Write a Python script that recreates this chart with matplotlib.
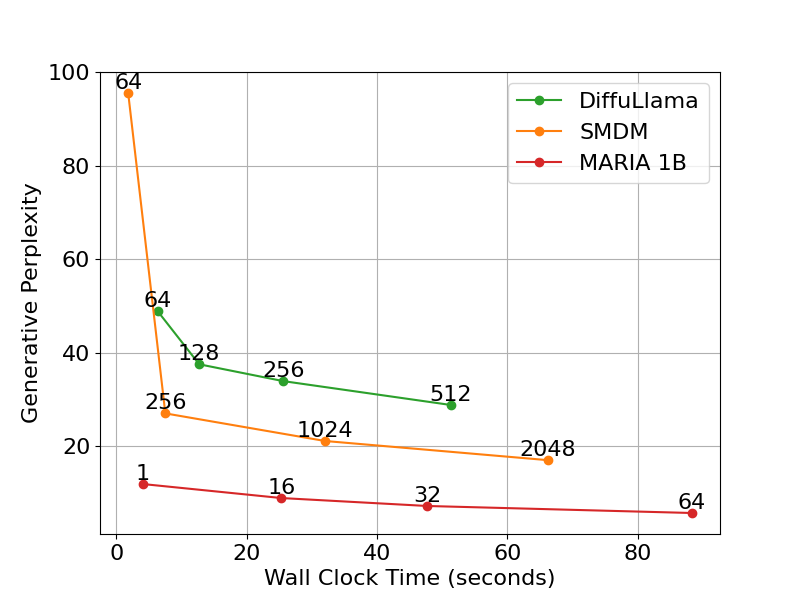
import matplotlib
matplotlib.use("Agg")
import matplotlib.pyplot as plt

# values
diffullama_time = [6.3, 12.7, 25.6, 51.3]
diffullama_ppl = [48.9, 37.5, 33.9, 28.8]
diffullama_steps = ["64", "128", "256", "512"]

smdm_time = [1.8, 7.5, 32.0, 66.2]
smdm_ppl = [95.5, 27.0, 21.1, 17.0]
smdm_steps = ["64", "256", "1024", "2048"]

maria_time = [4.0, 25.3, 47.7, 88.3]
maria_ppl = [11.9, 8.9, 7.2, 5.7]
maria_steps = ["1", "16", "32", "64"]

plt.rcParams.update({'font.size': 16})

fig, ax = plt.subplots(figsize=(8, 6), dpi=100)

series = [
    ("DiffuLlama", diffullama_time, diffullama_ppl, diffullama_steps, "tab:green"),
    ("SMDM", smdm_time, smdm_ppl, smdm_steps, "tab:orange"),
    ("MARIA 1B", maria_time, maria_ppl, maria_steps, "tab:red"),
]

for name, xs, ys, labels, color in series:
    ax.plot(xs, ys, marker='o', color=color, label=name)
    for x, y, lab in zip(xs, ys, labels):
        ax.annotate(lab, (x, y), ha='center', va='bottom', fontsize=16)

ax.set_ylim(top=100)
ax.set_xlabel("Wall Clock Time (seconds)")
ax.set_ylabel("Generative Perplexity")
ax.grid(True)
ax.legend(loc='upper right')

fig.savefig("out.png")
